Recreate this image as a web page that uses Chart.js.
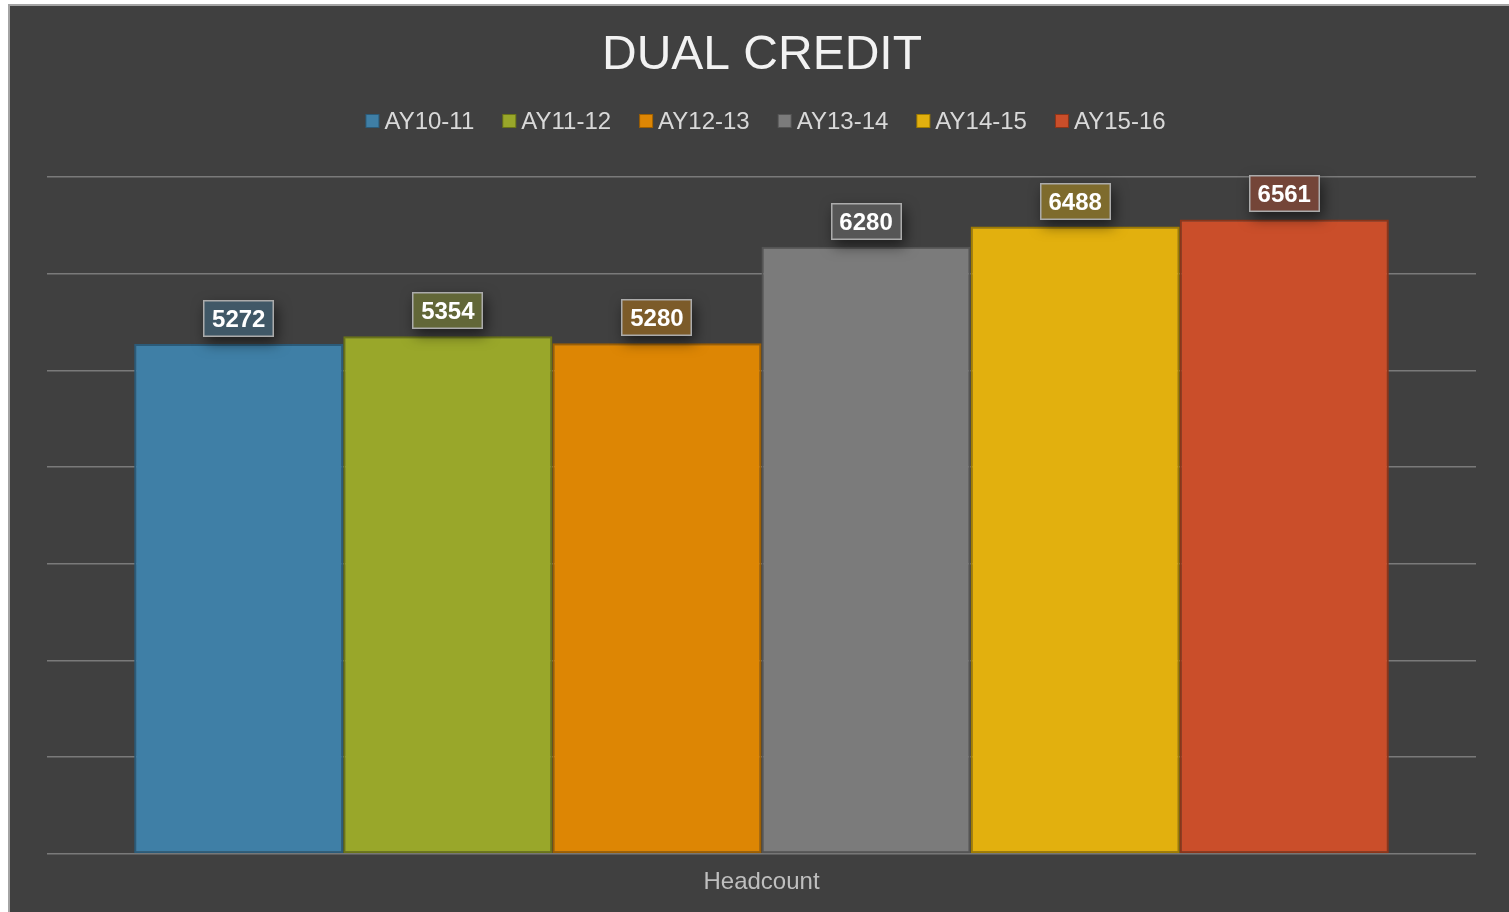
<!DOCTYPE html>
<html>
<head>
<meta charset="utf-8">
<script src="https://cdn.jsdelivr.net/npm/chart.js@4.4.0/dist/chart.umd.min.js"></script>
<style>
  html, body { margin: 0; padding: 0; background: #ffffff; width: 1509px; height: 912px; overflow: hidden; }
  #box { position: absolute; left: 8px; top: 4px; width: 1499px; height: 906px;
         background: #404040; border-left: 2px solid #a4a4a4; border-top: 2px solid #a4a4a4; }
  #wrap { position: absolute; left: 0; top: 0; width: 1499px; height: 906px; }
</style>
</head>
<body>
<div id="box"><div id="wrap"><canvas id="c" width="1499" height="906"></canvas></div></div>
<script>
const titleText = 'DUAL CREDIT';
const categories = ['Headcount'];
const seriesNames = ['AY10-11', 'AY11-12', 'AY12-13', 'AY13-14', 'AY14-15', 'AY15-16'];
const seriesValues = [5272, 5354, 5280, 6280, 6488, 6561];
const barColors = ['#3f7fa6', '#99a72a', '#dd8604', '#7b7b7b', '#e2b00e', '#ca4e2a'];
const borderColors = ['#2b5b79', '#6a7418', '#9e5f00', '#555555', '#a07c00', '#8c3519'];
const yMin = 0, yMax = 7000, yStep = 1000;

const FONT = '"Liberation Sans", Arial, sans-serif';

function hexToRgb(h) { const n = parseInt(h.slice(1), 16); return [(n >> 16) & 255, (n >> 8) & 255, n & 255]; }
function mix(h, t) {
  const c = hexToRgb(h), bg = [64, 64, 64];
  return 'rgb(' + c.map((v, i) => Math.round(v * t + bg[i] * (1 - t))).join(',') + ')';
}

const datasets = seriesNames.map((name, i) => ({
  label: name,
  data: [seriesValues[i]],
  backgroundColor: barColors[i],
  borderColor: borderColors[i],
  borderWidth: 2,
  borderSkipped: false,
  categoryPercentage: 0.878,
  barPercentage: 1.0
}));

const decorPlugin = {
  id: 'decor',
  afterDraw(chart) {
    const ctx = chart.ctx;
    const ca = chart.chartArea;
    const cx = (ca.left + ca.right) / 2;
    ctx.save();
    // Title
    ctx.font = '48px ' + FONT;
    ctx.fillStyle = '#f2f2f2';
    ctx.textAlign = 'center';
    ctx.textBaseline = 'alphabetic';
    ctx.fillText(titleText, cx + 0.5, 63);
    // Legend
    ctx.font = '24px ' + FONT;
    const box = 14, gapIn = 5, gapOut = 28;
    const widths = seriesNames.map(n => box + gapIn + ctx.measureText(n).width);
    const total = widths.reduce((a, b) => a + b, 0) + gapOut * (seriesNames.length - 1);
    let x = cx + 4 - total / 2;
    ctx.textAlign = 'left';
    seriesNames.forEach((n, i) => {
      ctx.fillStyle = borderColors[i];
      ctx.fillRect(x, 108, box, box);
      ctx.fillStyle = barColors[i];
      ctx.fillRect(x + 1, 109, box - 2, box - 2);
      ctx.fillStyle = '#d9d9d9';
      ctx.fillText(n, x + box + gapIn, 123);
      x += widths[i] + gapOut;
    });
    ctx.restore();
  },
  afterDatasetsDraw(chart) {
    const ctx = chart.ctx;
    ctx.save();
    ctx.font = 'bold 24px ' + FONT;
    chart.data.datasets.forEach((ds, i) => {
      const meta = chart.getDatasetMeta(i);
      meta.data.forEach((bar, j) => {
        const txt = String(ds.data[j]);
        const tw = ctx.measureText(txt).width;
        const w = Math.round(tw + 18), h = 37;
        const cy = bar.y - 25.5;
        const bx = Math.round(bar.x - w / 2), by = Math.round(cy - h / 2);
        ctx.save();
        ctx.shadowColor = 'rgba(0,0,0,0.55)';
        ctx.shadowBlur = 14;
        ctx.shadowOffsetX = 3;
        ctx.shadowOffsetY = 6;
        ctx.fillStyle = mix(barColors[i], 0.38);
        ctx.fillRect(bx, by, w, h);
        ctx.restore();
        ctx.strokeStyle = '#ababab';
        ctx.lineWidth = 1.5;
        ctx.strokeRect(bx + 0.75, by + 0.75, w - 1.5, h - 1.5);
        ctx.fillStyle = '#ffffff';
        ctx.textAlign = 'center';
        ctx.textBaseline = 'alphabetic';
        ctx.fillText(txt, bar.x, by + h / 2 + 8.5);
      });
    });
    ctx.restore();
  }
};

new Chart(document.getElementById('c'), {
  type: 'bar',
  data: { labels: categories, datasets: datasets },
  options: {
    responsive: false,
    animation: false,
    devicePixelRatio: 1,
    layout: { padding: { left: 37, right: 33, top: 171, bottom: 0 } },
    plugins: {
      legend: { display: false },
      title: { display: false },
      tooltip: { enabled: false }
    },
    scales: {
      x: {
        grid: { display: false, drawTicks: false },
        border: { display: false },
        ticks: { color: '#bfbfbf', font: { family: FONT, size: 24 }, padding: 14 },
        afterFit(scale) { scale.height = 58; }
      },
      y: {
        min: yMin, max: yMax,
        grid: { color: '#7a7a7a', lineWidth: 1.6, drawTicks: false },
        border: { display: false },
        ticks: { display: false, stepSize: yStep },
        afterFit(scale) { scale.width = 0; }
      }
    }
  },
  plugins: [decorPlugin]
});
</script>
</body>
</html>
